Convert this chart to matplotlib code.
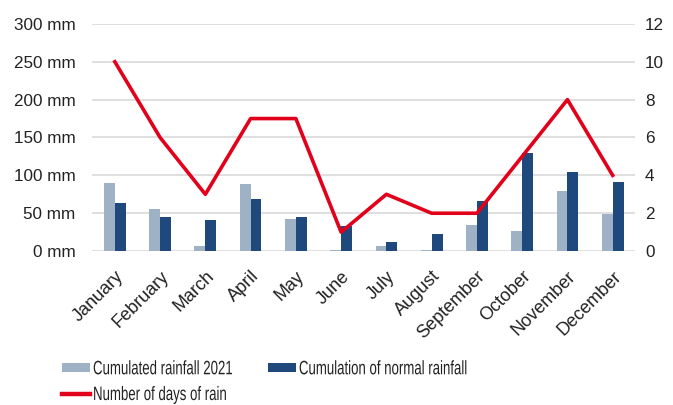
import numpy as np
import matplotlib.pyplot as plt
from matplotlib.patheffects import AbstractPathEffect
from matplotlib.transforms import Affine2D
from matplotlib.ticker import FuncFormatter

plt.rcParams['font.family'] = ['Liberation Sans', 'DejaVu Sans']

months = ["January", "February", "March", "April", "May", "June",
          "July", "August", "September", "October", "November", "December"]
rain_2021 = [90, 55, 7, 88, 42, 2, 7, 1, 34, 26, 79, 49]
rain_normal = [63, 45, 41, 69, 45, 33, 12, 22, 66, 129, 104, 91]
rain_days = [10, 6, 3, 7, 7, 1, 3, 2, 2, 5, 8, 4]

light = "#9fb2c5"
dark = "#1f497d"
red = "#e2001a"


class Condense(AbstractPathEffect):
    # squeeze glyphs horizontally (the legend font in the original is a narrow face)
    def __init__(self, sx):
        super().__init__()
        self.sx = sx

    def draw_path(self, renderer, gc, tpath, affine, rgbFace=None):
        renderer.draw_path(gc, tpath, Affine2D().scale(self.sx, 1) + affine, rgbFace)


fig = plt.figure(figsize=(6.73, 4.05), dpi=100)
ax = fig.add_axes([0.137, 0.380, 0.807, 0.561])
x = np.arange(len(months))
w = 0.24
b1 = ax.bar(x - w / 2, rain_2021, w, color=light, zorder=2, label="Cumulated rainfall 2021")
b2 = ax.bar(x + w / 2, rain_normal, w, color=dark, zorder=2, label="Cumulation of normal rainfall")
ax.set_xlim(-0.5, len(months) - 0.5)
ax.set_ylim(0, 300)
ax.set_yticks(range(0, 301, 50))
ax.yaxis.set_major_formatter(FuncFormatter(lambda v, p: f"{int(v)} mm"))
ax.grid(axis="y", color="#d9d9d9", linewidth=1.2, zorder=0)
for s in ax.spines.values():
    s.set_visible(False)
ax.tick_params(axis="both", length=0, labelsize=12.3, colors="#222222")
ax.tick_params(axis="y", pad=12)
ax.set_xticks(x)
ax.set_xticklabels(months, rotation=45, ha="right", rotation_mode="anchor", fontsize=13)
ax.tick_params(axis="x", pad=12)

ax2 = ax.twinx()
ln, = ax2.plot(x, rain_days, color=red, linewidth=2.6, zorder=3, label="Number of days of rain")
ax2.set_ylim(0, 12)
ax2.set_yticks(range(0, 13, 2))
for s in ax2.spines.values():
    s.set_visible(False)
ax2.tick_params(axis="y", length=0, labelsize=12.3, colors="#222222", pad=7)

leg = fig.legend([b1, ln, b2], [b1.get_label(), ln.get_label(), b2.get_label()],
                 ncol=2, loc="upper left", bbox_to_anchor=(0.092, 0.108),
                 frameon=False, fontsize=14,
                 handlelength=1.45, handleheight=0.36,
                 handletextpad=0.15, columnspacing=-1.65, labelspacing=0.45,
                 borderpad=0, borderaxespad=0)
for t in leg.get_texts():
    t.set_color("#222222")
    t.set_path_effects([Condense(0.68)])
leg.legend_handles[1].set_linewidth(3.2)

fig.savefig("out.png", dpi=100)
